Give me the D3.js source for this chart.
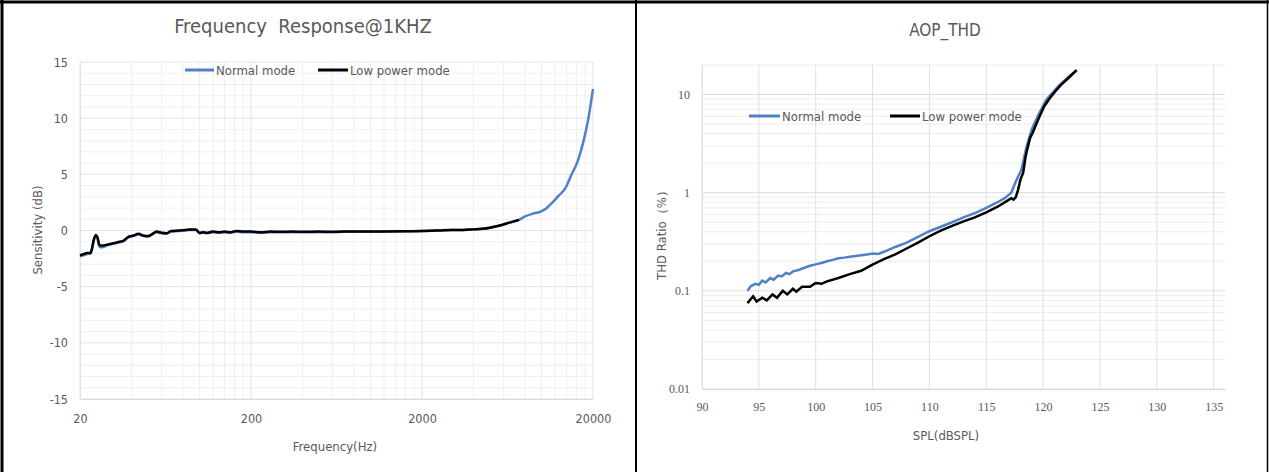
<!DOCTYPE html>
<html>
<head>
<meta charset="utf-8">
<script src="https://cdn.jsdelivr.net/npm/d3@7/dist/d3.min.js"></script>
<style>
  html, body { margin: 0; padding: 0; background: #fff; }
  svg { display: block; }
  .sans { font-family: "Liberation Sans Narrow", "DejaVu Sans Condensed", "Noto Sans", sans-serif; }
  .serif { font-family: "Liberation Serif", "DejaVu Serif", serif; }
</style>
</head>
<body>
<svg id="chart" width="1269" height="472"></svg>
<script>
// ---------- Data: Frequency Response ----------
const freqLow = [20,21,22,23,23.5,24,24.7,25.3,26,27,28,30,32,34,36,38,41,44,47,50,53,56,60,64,68,75,82,88,95,100,105,110,120,130,140,150,165,180,200,230,260,300,350,400,500,600,700,800,1000,1200,1500,2000,2500,3000,3500,4000,4500,5000,5700,6500,7400];
const sensLow = [-2.2,-2.1,-2.0,-2.0,-1.6,-0.9,-0.4,-0.6,-1.3,-1.35,-1.3,-1.2,-1.1,-1.0,-0.9,-0.6,-0.45,-0.3,-0.45,-0.5,-0.3,-0.1,-0.2,-0.25,-0.05,0.0,0.05,0.1,0.1,-0.2,-0.15,-0.2,-0.1,-0.15,-0.1,-0.15,-0.05,-0.1,-0.1,-0.15,-0.1,-0.12,-0.1,-0.12,-0.1,-0.12,-0.1,-0.1,-0.1,-0.08,-0.07,-0.05,0.0,0.05,0.05,0.1,0.15,0.25,0.45,0.7,0.95];
const freqNormal = [20,21,22,23,23.5,24,24.7,25.3,26,27,28,30,32,34,36,38,41,44,47,50,53,56,60,64,68,75,82,88,95,100,105,110,120,130,140,150,165,180,200,230,260,300,350,400,500,600,700,800,1000,1200,1500,2000,2500,3000,3500,4000,4500,5000,5700,6500,7400,8000,8900,9750,10500,11600,12600,13700,15000,16300,17500,18700,20000];
const sensNormal = [-2.3,-2.2,-2.1,-2.05,-1.7,-1.0,-0.5,-0.7,-1.45,-1.5,-1.4,-1.25,-1.15,-1.05,-0.95,-0.65,-0.5,-0.35,-0.5,-0.55,-0.35,-0.15,-0.25,-0.3,-0.1,-0.05,0.0,0.05,0.05,-0.25,-0.2,-0.25,-0.15,-0.2,-0.15,-0.2,-0.1,-0.15,-0.15,-0.2,-0.15,-0.15,-0.15,-0.15,-0.15,-0.15,-0.12,-0.12,-0.12,-0.1,-0.08,-0.05,0.0,0.05,0.05,0.1,0.15,0.25,0.45,0.7,0.95,1.25,1.5,1.65,1.9,2.5,3.1,3.7,5.0,6.2,7.8,9.8,12.6];
const freqTicks = [20, 200, 2000, 20000];
const sensTicks = [-15, -10, -5, 0, 5, 10, 15];

// ---------- Data: AOP_THD ----------
const splNormal = [94,94.3,94.7,95.0,95.3,95.6,96.0,96.3,96.7,97.0,97.4,97.7,98.0,98.5,99,99.5,100,100.5,101,101.5,102,102.5,103,103.5,104,104.5,105,105.5,106,106.5,107,108,109,110,111,112,113,114,115,116,116.65,117.2,117.6,118.1,118.55,119.0,119.6,120.3,121.35,122.2,122.95];
const thdNormal = [0.1,0.112,0.118,0.115,0.127,0.122,0.135,0.13,0.143,0.14,0.152,0.148,0.158,0.163,0.172,0.18,0.186,0.192,0.2,0.207,0.215,0.218,0.222,0.226,0.23,0.235,0.24,0.238,0.25,0.265,0.28,0.31,0.355,0.405,0.45,0.5,0.56,0.62,0.7,0.8,0.885,1.0,1.3,1.72,2.97,4.4,6.25,8.9,12.2,15,17.7];
const splLow = [94,94.5,94.8,95.3,95.7,96.2,96.6,97.1,97.5,98.0,98.3,98.8,99.5,100,100.5,101,102,103,104,105,106,107,108,109,110,111,112,113,114,115,116,116.8,117.2,117.4,117.6,117.8,118.0,118.25,118.45,118.6,118.85,119.1,119.4,119.7,120.1,120.6,121.1,121.6,122.3,122.95];
const thdLow = [0.075,0.088,0.078,0.085,0.08,0.092,0.085,0.1,0.092,0.105,0.098,0.11,0.11,0.12,0.118,0.125,0.135,0.148,0.16,0.185,0.21,0.235,0.27,0.31,0.36,0.41,0.46,0.51,0.56,0.63,0.72,0.82,0.88,0.85,0.9,1.07,1.35,1.6,2.3,2.75,3.6,4.1,5.0,6.0,7.6,9.2,10.9,12.6,15,17.7];
const splTicks = [90,95,100,105,110,115,120,125,130,135];
const thdTicks = [0.01, 0.1, 1, 10];

const seriesNames = ["Normal mode", "Low power mode"];
const seriesColors = ["#4f81c4", "#000000"];

const svg = d3.select("#chart");
const textColor = "#595959";

// ---------- Frame ----------
const frame = svg.append("g");
frame.append("line").attr("x1", 0).attr("x2", 1269).attr("y1", 2).attr("y2", 2).attr("stroke", "#000").attr("stroke-width", 3);
frame.append("line").attr("x1", 2).attr("x2", 2).attr("y1", 0).attr("y2", 472).attr("stroke", "#000").attr("stroke-width", 3);
frame.append("line").attr("x1", 636).attr("x2", 636).attr("y1", 0).attr("y2", 472).attr("stroke", "#000").attr("stroke-width", 2);
frame.append("line").attr("x1", 1267.5).attr("x2", 1267.5).attr("y1", 0).attr("y2", 472).attr("stroke", "#000").attr("stroke-width", 1.5);

// ================= Left chart =================
const L = { left: 80, right: 593, top: 62, bottom: 399 };
const xL = d3.scaleLog().domain([20, 20000]).range([L.left, L.right]);
const yL = d3.scaleLinear().domain([-15, 15]).range([L.bottom, L.top]);
const gL = svg.append("g");

const vMinorL = [];
[20, 200, 2000].forEach(b => { for (let k = 2; k <= 9; k++) vMinorL.push(b * k); });
gL.selectAll(".vminL").data(vMinorL).enter().append("line")
  .attr("x1", d => xL(d)).attr("x2", d => xL(d)).attr("y1", L.top).attr("y2", L.bottom)
  .attr("stroke", "#efefef").attr("stroke-width", 1);
const hMinorL = d3.range(-15, 16, 1).filter(v => v % 5 !== 0);
gL.selectAll(".hminL").data(hMinorL).enter().append("line")
  .attr("x1", L.left).attr("x2", L.right).attr("y1", d => yL(d)).attr("y2", d => yL(d))
  .attr("stroke", "#efefef").attr("stroke-width", 1);
gL.selectAll(".vmajL").data(freqTicks).enter().append("line")
  .attr("x1", d => xL(d)).attr("x2", d => xL(d)).attr("y1", L.top).attr("y2", L.bottom)
  .attr("stroke", "#e3e3e3").attr("stroke-width", 1);
gL.selectAll(".hmajL").data(sensTicks).enter().append("line")
  .attr("x1", L.left).attr("x2", L.right).attr("y1", d => yL(d)).attr("y2", d => yL(d))
  .attr("stroke", "#e3e3e3").attr("stroke-width", 1);

const axBL = d3.axisBottom(xL).tickValues(freqTicks).tickFormat(d => String(d)).tickSize(0).tickPadding(15);
gL.append("g").attr("transform", `translate(0,${L.bottom})`).call(axBL)
  .call(g => g.select(".domain").attr("stroke", "#d9d9d9"))
  .call(g => g.selectAll("text").attr("class", "sans").attr("font-size", 12.5).attr("fill", textColor));
const axLL = d3.axisLeft(yL).tickValues(sensTicks).tickFormat(d => String(d)).tickSize(0).tickPadding(12);
gL.append("g").attr("transform", `translate(${L.left},0)`).call(axLL)
  .call(g => g.select(".domain").attr("stroke", "#e3e3e3"))
  .call(g => g.selectAll("text").attr("class", "sans").attr("font-size", 12.5).attr("fill", textColor));

const lineL = d3.line().x(d => xL(d[0])).y(d => yL(d[1])).curve(d3.curveMonotoneX);
gL.append("path").datum(d3.zip(freqNormal, sensNormal)).attr("d", lineL)
  .attr("fill", "none").attr("stroke", seriesColors[0]).attr("stroke-width", 2.5);
gL.append("path").datum(d3.zip(freqLow, sensLow)).attr("d", lineL)
  .attr("fill", "none").attr("stroke", seriesColors[1]).attr("stroke-width", 2.5);

gL.append("text").attr("class", "sans").attr("x", 303).attr("y", 33).attr("text-anchor", "middle")
  .attr("font-size", 20).attr("fill", textColor).attr("xml:space", "preserve").text("Frequency  Response@1KHZ");
gL.append("text").attr("class", "sans").attr("transform", "translate(42,230) rotate(-90)").attr("text-anchor", "middle")
  .attr("font-size", 13).attr("fill", textColor).text("Sensitivity (dB)");
gL.append("text").attr("class", "sans").attr("x", 335).attr("y", 451).attr("text-anchor", "middle")
  .attr("font-size", 13).attr("fill", textColor).text("Frequency(Hz)");

const legL = gL.append("g");
const legLPos = [{ x: 185, w: 29 }, { x: 318, w: 30 }];
seriesNames.forEach((n, i) => {
  legL.append("line").attr("x1", legLPos[i].x).attr("x2", legLPos[i].x + legLPos[i].w).attr("y1", 70).attr("y2", 70)
    .attr("stroke", seriesColors[i]).attr("stroke-width", 3);
  legL.append("text").attr("class", "sans").attr("x", legLPos[i].x + legLPos[i].w + 2).attr("y", 74.5)
    .attr("font-size", 13).attr("fill", textColor).text(n);
});

// ================= Right chart =================
const R = { left: 702, right: 1225, top: 65, bottom: 389 };
const xR = d3.scaleLinear().domain([90, 136]).range([R.left, R.right]);
const yR = d3.scaleLog().domain([0.01, 20]).range([R.bottom, R.top]);
const gR = svg.append("g");

const hMinorR = [];
[0.01, 0.1, 1, 10].forEach(b => { for (let k = 2; k <= 9; k++) { const v = b * k; if (v <= 20.0001) hMinorR.push(v); } });
gR.selectAll(".hminR").data(hMinorR).enter().append("line")
  .attr("x1", R.left).attr("x2", R.right).attr("y1", d => yR(d)).attr("y2", d => yR(d))
  .attr("stroke", "#ececec").attr("stroke-width", 1);
gR.selectAll(".hmajR").data(thdTicks).enter().append("line")
  .attr("x1", R.left).attr("x2", R.right).attr("y1", d => yR(d)).attr("y2", d => yR(d))
  .attr("stroke", "#dcdcdc").attr("stroke-width", 1);
gR.selectAll(".vmajR").data(splTicks).enter().append("line")
  .attr("x1", d => xR(d)).attr("x2", d => xR(d)).attr("y1", R.top).attr("y2", R.bottom)
  .attr("stroke", "#e0e0e0").attr("stroke-width", 1);

const axBR = d3.axisBottom(xR).tickValues(splTicks).tickFormat(d => String(d)).tickSize(0).tickPadding(13);
gR.append("g").attr("transform", `translate(0,${R.bottom})`).call(axBR)
  .call(g => g.select(".domain").attr("stroke", "#d9d9d9"))
  .call(g => g.selectAll("text").attr("class", "serif").attr("font-size", 12).attr("fill", textColor));
const axLR = d3.axisLeft(yR).tickValues(thdTicks).tickFormat(d => String(d)).tickSize(0).tickPadding(12);
gR.append("g").attr("transform", `translate(${R.left},0)`).call(axLR)
  .call(g => g.select(".domain").attr("stroke", "#e0e0e0"))
  .call(g => g.selectAll("text").attr("class", "serif").attr("font-size", 12).attr("fill", textColor));

const lineR = d3.line().x(d => xR(d[0])).y(d => yR(d[1]));
gR.append("path").datum(d3.zip(splNormal, thdNormal)).attr("d", lineR)
  .attr("fill", "none").attr("stroke", seriesColors[0]).attr("stroke-width", 2.5);
gR.append("path").datum(d3.zip(splLow, thdLow)).attr("d", lineR)
  .attr("fill", "none").attr("stroke", seriesColors[1]).attr("stroke-width", 2.5);

gR.append("text").attr("class", "sans").attr("x", 945).attr("y", 36).attr("text-anchor", "middle")
  .attr("font-size", 17).attr("fill", textColor).text("AOP_THD");
gR.append("text").attr("class", "sans").attr("transform", "translate(666,232) rotate(-90)").attr("text-anchor", "middle")
  .attr("font-size", 13).attr("fill", textColor).text("THD Ratio（%）");
gR.append("text").attr("class", "sans").attr("x", 946).attr("y", 440).attr("text-anchor", "middle")
  .attr("font-size", 13).attr("fill", textColor).text("SPL(dBSPL)");

const legR = gR.append("g");
const legRPos = [{ x: 749, w: 31 }, { x: 890, w: 30 }];
seriesNames.forEach((n, i) => {
  legR.append("line").attr("x1", legRPos[i].x).attr("x2", legRPos[i].x + legRPos[i].w).attr("y1", 116).attr("y2", 116)
    .attr("stroke", seriesColors[i]).attr("stroke-width", 3);
  legR.append("text").attr("class", "sans").attr("x", legRPos[i].x + legRPos[i].w + 2).attr("y", 120.5)
    .attr("font-size", 13).attr("fill", textColor).text(n);
});
</script>
</body>
</html>
